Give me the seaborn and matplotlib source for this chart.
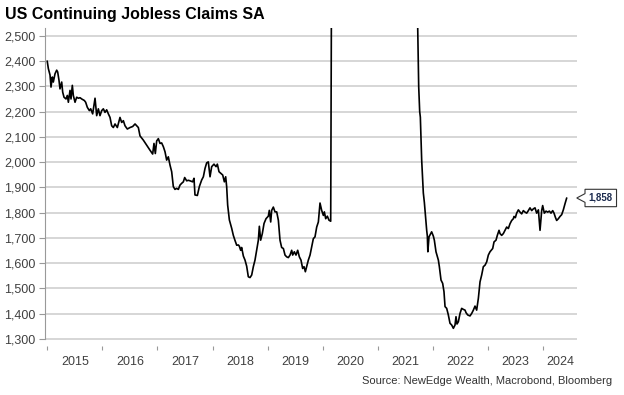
import matplotlib
matplotlib.use("Agg")

import matplotlib.pyplot as plt
import seaborn as sns
import pandas as pd
from matplotlib.path import Path
from matplotlib.ticker import FuncFormatter

# =========================
# DATA (weekly-ish readings, thousands)
# =========================
years = [
    2015.000, 2015.021, 2015.051, 2015.069, 2015.093, 2015.111, 2015.142, 2015.172, 2015.190, 2015.214,
    2015.232, 2015.263, 2015.281, 2015.305, 2015.341, 2015.365, 2015.384, 2015.414, 2015.432, 2015.456,
    2015.474, 2015.505, 2015.535, 2015.565, 2015.596, 2015.626, 2015.674, 2015.698, 2015.728, 2015.765,
    2015.789, 2015.825, 2015.868, 2015.898, 2015.928, 2015.958, 2015.989, 2016.019, 2016.049, 2016.079,
    2016.110, 2016.140, 2016.170, 2016.200, 2016.231, 2016.273, 2016.321, 2016.352, 2016.382, 2016.412,
    2016.454, 2016.503, 2016.551, 2016.594, 2016.624, 2016.654, 2016.684, 2016.745, 2016.805, 2016.866,
    2016.914, 2016.938, 2016.962, 2016.987, 2017.017, 2017.047, 2017.077, 2017.108, 2017.138, 2017.168,
    2017.198, 2017.229, 2017.259, 2017.289, 2017.319, 2017.350, 2017.380, 2017.410, 2017.440, 2017.471,
    2017.495, 2017.531, 2017.562, 2017.592, 2017.640, 2017.664, 2017.682, 2017.725, 2017.761, 2017.803,
    2017.834, 2017.864, 2017.894, 2017.924, 2017.955, 2017.985, 2018.027, 2018.064, 2018.088, 2018.118,
    2018.154, 2018.185, 2018.215, 2018.239, 2018.257, 2018.275, 2018.306, 2018.348, 2018.378, 2018.408,
    2018.439, 2018.470, 2018.487, 2018.511, 2018.529, 2018.560, 2018.590, 2018.620, 2018.650, 2018.681,
    2018.711, 2018.741, 2018.771, 2018.802, 2018.832, 2018.850, 2018.874, 2018.904, 2018.935, 2018.971,
    2019.013, 2019.031, 2019.056, 2019.074, 2019.104, 2019.134, 2019.165, 2019.195, 2019.225, 2019.255,
    2019.286, 2019.316, 2019.346, 2019.376, 2019.407, 2019.437, 2019.455, 2019.485, 2019.515, 2019.546,
    2019.576, 2019.606, 2019.636, 2019.661, 2019.685, 2019.709, 2019.739, 2019.770, 2019.800, 2019.830,
    2019.860, 2019.891, 2019.921, 2019.951, 2019.981, 2020.012, 2020.030, 2020.054, 2020.084, 2020.114,
    2020.145, 2020.165, 2020.184, 2020.203, 2020.222, 2020.260, 2020.360, 2020.450, 2020.550, 2020.650,
    2020.750, 2020.850, 2020.950, 2021.100, 2021.250, 2021.400, 2021.550, 2021.650, 2021.705, 2021.724,
    2021.742, 2021.760, 2021.772, 2021.796, 2021.826, 2021.845, 2021.869, 2021.887, 2021.899, 2021.908,
    2021.929, 2021.960, 2021.977, 2022.008, 2022.026, 2022.056, 2022.099, 2022.117, 2022.147, 2022.177,
    2022.201, 2022.220, 2022.250, 2022.280, 2022.310, 2022.341, 2022.371, 2022.401, 2022.419, 2022.437,
    2022.462, 2022.492, 2022.522, 2022.552, 2022.583, 2022.601, 2022.631, 2022.673, 2022.704, 2022.734,
    2022.764, 2022.794, 2022.825, 2022.855, 2022.885, 2022.915, 2022.946, 2022.976, 2023.006, 2023.036,
    2023.085, 2023.109, 2023.145, 2023.169, 2023.200, 2023.218, 2023.248, 2023.278, 2023.309, 2023.339,
    2023.369, 2023.399, 2023.430, 2023.460, 2023.472, 2023.496, 2023.520, 2023.551, 2023.581, 2023.611,
    2023.641, 2023.672, 2023.702, 2023.732, 2023.762, 2023.793, 2023.823, 2023.853, 2023.883, 2023.914,
    2023.944, 2023.974, 2023.992, 2024.022, 2024.053, 2024.083, 2024.113, 2024.143, 2024.174, 2024.198,
    2024.222, 2024.246, 2024.277, 2024.307, 2024.337, 2024.367, 2024.397, 2024.428,
]

claims = [
    2400, 2370, 2345, 2297, 2337, 2317, 2350, 2364, 2357, 2324,
    2290, 2317, 2277, 2257, 2250, 2264, 2237, 2284, 2250, 2304,
    2264, 2237, 2257, 2253, 2255, 2250, 2244, 2237, 2217, 2204,
    2211, 2191, 2253, 2184, 2211, 2184, 2204, 2211, 2197, 2207,
    2191, 2177, 2144, 2137, 2151, 2137, 2177, 2157, 2164, 2144,
    2131, 2137, 2141, 2151, 2144, 2137, 2104, 2087, 2067, 2047,
    2032, 2074, 2034, 2084, 2093, 2074, 2076, 2061, 2041, 2008,
    2021, 1988, 1962, 1903, 1892, 1896, 1892, 1909, 1916, 1922,
    1939, 1926, 1928, 1926, 1922, 1936, 1870, 1868, 1903, 1929,
    1942, 1975, 1997, 2001, 1942, 1982, 1992, 1982, 1992, 1962,
    1955, 1949, 1922, 1942, 1903, 1830, 1771, 1738, 1710, 1690,
    1671, 1672, 1667, 1651, 1662, 1628, 1612, 1588, 1546, 1543,
    1553, 1586, 1612, 1651, 1691, 1746, 1691, 1717, 1757, 1776,
    1786, 1809, 1763, 1809, 1822, 1803, 1803, 1770, 1691, 1662,
    1658, 1632, 1625, 1622, 1632, 1651, 1632, 1645, 1632, 1651,
    1625, 1612, 1579, 1586, 1566, 1586, 1612, 1632, 1664, 1697,
    1704, 1743, 1763, 1838, 1809, 1789, 1803, 1776, 1786, 1770,
    1766, 3059, 7446, 11914, 16000, 20000, 22800, 18000, 16000, 13000,
    10000, 7000, 5300, 4800, 3700, 3500, 3100, 2850, 2700, 2533,
    2299, 2200, 2178, 2009, 1878, 1840, 1776, 1730, 1707, 1645,
    1704, 1717, 1724, 1707, 1691, 1645, 1612, 1586, 1533, 1520,
    1487, 1428, 1421, 1395, 1362, 1355, 1342, 1355, 1388, 1359,
    1368, 1401, 1421, 1417, 1414, 1404, 1395, 1391, 1401, 1414,
    1430, 1414, 1461, 1526, 1553, 1586, 1592, 1605, 1632, 1645,
    1658, 1684, 1691, 1710, 1730, 1717, 1710, 1717, 1730, 1743,
    1737, 1756, 1769, 1776, 1785, 1780, 1798, 1811, 1802, 1795,
    1808, 1802, 1798, 1808, 1819, 1808, 1815, 1819, 1798, 1811,
    1730, 1808, 1828, 1798, 1806, 1802, 1806, 1798, 1808, 1798,
    1782, 1769, 1776, 1785, 1792, 1811, 1835, 1858,
]

year_ticks = list(range(2015, 2025))
year_labels = [str(y) for y in year_ticks]
y_ticks = list(range(1300, 2501, 100))

X_MIN, X_MAX = 2014.96, 2024.615
Y_MIN, Y_MAX = 1272, 2531

TITLE = "US Continuing Jobless Claims SA"
SOURCE = "Source: NewEdge Wealth, Macrobond, Bloomberg"


# =========================
# CALLOUT BOX (rectangle + pointer on the left)
# =========================
def callout_box(x0, y0, width, height, mutation_size):
    pad = 0.38 * mutation_size
    x0, y0 = x0 - pad, y0 - pad
    x1, y1 = x0 + width + 2 * pad, y0 + height + 2 * pad
    ym = (y0 + y1) / 2
    tip = 0.85 * mutation_size
    half = 0.25 * (y1 - y0)
    verts = [(x0, y0), (x1, y0), (x1, y1), (x0, y1),
             (x0, ym + half), (x0 - tip, ym), (x0, ym - half), (x0, y0)]
    return Path(verts, closed=True)


# =========================
# FIGURE
# =========================
sns.set_style("white")
plt.rcParams["font.family"] = ["Liberation Sans", "DejaVu Sans"]

df = pd.DataFrame({"year": years, "claims": claims})

fig = plt.figure(figsize=(6.24, 3.95), dpi=100)
ax = fig.add_axes([45 / 624, 1 - 346 / 395, 532 / 624, 318 / 395])

sns.lineplot(data=df, x="year", y="claims", color="black", linewidth=1.2, ax=ax)

ax.set_xlim(X_MIN, X_MAX)
ax.set_ylim(Y_MIN, Y_MAX)
ax.set_xlabel("")
ax.set_ylabel("")

# -------- y axis
ax.set_yticks(y_ticks)
ax.yaxis.set_major_formatter(FuncFormatter(lambda v, p: f"{int(v):,}"))
ax.grid(axis="y", color="#cccccc", linewidth=1.1)
ax.grid(axis="x", visible=False)
ax.set_axisbelow(True)
ax.tick_params(axis="y", which="major", length=4, width=0.8, color="#999999",
               direction="out", labelsize=9, labelcolor="#404040", pad=3, left=True)

# -------- x axis: ticks at year start, labels mid-year
label_pos = [y + 0.5 for y in year_ticks[:-1]] + [(year_ticks[-1] + X_MAX) / 2]
ax.set_xticks(year_ticks)
ax.set_xticklabels([""] * len(year_ticks))
ax.set_xticks(label_pos, minor=True)
ax.set_xticklabels(year_labels, minor=True)
ax.tick_params(axis="x", which="major", length=3, width=0.8, color="#999999",
               direction="out", bottom=True)
ax.tick_params(axis="x", which="minor", length=0, labelsize=9,
               labelcolor="#404040", pad=7)

for side in ["top", "right", "bottom"]:
    ax.spines[side].set_visible(False)
ax.spines["left"].set_color("#999999")
ax.spines["left"].set_linewidth(0.8)
ax.spines["left"].set_bounds(y_ticks[0], Y_MAX)

# -------- last value callout
ax.text(1.022, claims[-1], f"{claims[-1]:,}", transform=ax.get_yaxis_transform(),
        ha="left", va="center", fontsize=7, fontweight="bold", color="#1c2b4f",
        bbox=dict(boxstyle=callout_box, fc="white", ec="#333333", lw=0.8),
        clip_on=False)

# -------- title & source
fig.text(5 / 624, 1 - 15 / 395, TITLE, fontsize=11.5, fontweight="bold",
         color="black", ha="left", va="center")
fig.text(612 / 624, 1 - 381 / 395, SOURCE, fontsize=8, color="#333333",
         ha="right", va="center")

fig.savefig("out.png", dpi=100)
plt.close(fig)
